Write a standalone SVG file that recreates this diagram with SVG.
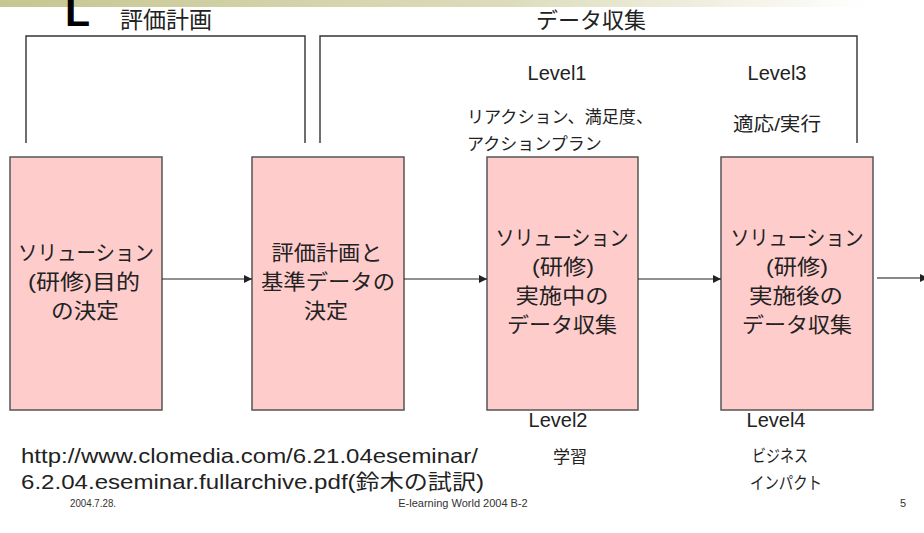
<svg xmlns="http://www.w3.org/2000/svg" width="924" height="533" viewBox="0 0 924 533">
<defs>
<linearGradient id="bar" x1="0" y1="0" x2="1" y2="0">
<stop offset="0" stop-color="#c6c692"/>
<stop offset="0.55" stop-color="#dcdcbc"/>
<stop offset="0.94" stop-color="#ffffff"/>
</linearGradient>
<marker id="ah" viewBox="0 0 10 10" refX="10" refY="5" markerWidth="8" markerHeight="8" markerUnits="userSpaceOnUse" orient="auto">
<path d="M0,0 L10,5 L0,10 z" fill="#222"/>
</marker>
<style>
.box{fill:#ffcccc;stroke:#555;stroke-width:1.5}
.br{fill:none;stroke:#333;stroke-width:1.4}
.t{font-family:"Liberation Sans","Noto Sans CJK JP",sans-serif;fill:#222}
.bt{font-size:21px;text-anchor:middle}
.lv{font-size:20px;text-anchor:middle}
.sm{font-size:17px}
.ft{font-size:11px;fill:#333}
.cn{stroke:#222;stroke-width:1;fill:none;marker-end:url(#ah)}
</style>
</defs>
<rect x="0" y="0" width="924" height="533" fill="#fff"/>
<rect x="0" y="0" width="924" height="7" fill="url(#bar)"/>
<text class="t" x="65" y="26" font-size="41" font-weight="bold" style="fill:#000">L</text>

<g id="plan-bracket">
<path class="br" d="M26,143 V36 H305 V143"/>
<text class="t" x="166" y="28" font-size="23" text-anchor="middle">評価計画</text>
</g>
<g id="data-bracket">
<path class="br" d="M320,143 V36 H857 V143"/>
<text class="t" x="591" y="28" font-size="22" text-anchor="middle">データ収集</text>
</g>

<g id="node1">
<rect class="box" x="10" y="157" width="152" height="253"/>
<text class="t bt" x="86" y="260" textLength="136" lengthAdjust="spacingAndGlyphs">ソリューション</text>
<text class="t bt" x="84" y="289" textLength="112" lengthAdjust="spacingAndGlyphs">(研修)目的</text>
<text class="t bt" x="85" y="318" textLength="68" lengthAdjust="spacingAndGlyphs">の決定</text>
</g>
<g id="node2">
<rect class="box" x="252" y="157" width="152" height="253"/>
<text class="t bt" x="327" y="260" textLength="111" lengthAdjust="spacingAndGlyphs">評価計画と</text>
<text class="t bt" x="328" y="289" textLength="134" lengthAdjust="spacingAndGlyphs">基準データの</text>
<text class="t bt" x="326" y="318" textLength="44" lengthAdjust="spacingAndGlyphs">決定</text>
</g>
<g id="node3">
<rect class="box" x="487" y="157" width="151" height="253"/>
<text class="t bt" x="562" y="245" textLength="133" lengthAdjust="spacingAndGlyphs">ソリューション</text>
<text class="t bt" x="563" y="274" textLength="62" lengthAdjust="spacingAndGlyphs">(研修)</text>
<text class="t bt" x="562" y="303" textLength="93" lengthAdjust="spacingAndGlyphs">実施中の</text>
<text class="t bt" x="562" y="332" textLength="110" lengthAdjust="spacingAndGlyphs">データ収集</text>
</g>
<g id="node4">
<rect class="box" x="721" y="157" width="152" height="253"/>
<text class="t bt" x="797" y="245" textLength="133" lengthAdjust="spacingAndGlyphs">ソリューション</text>
<text class="t bt" x="797" y="274" textLength="62" lengthAdjust="spacingAndGlyphs">(研修)</text>
<text class="t bt" x="796" y="303" textLength="94" lengthAdjust="spacingAndGlyphs">実施後の</text>
<text class="t bt" x="797" y="332" textLength="110" lengthAdjust="spacingAndGlyphs">データ収集</text>
</g>

<g id="connectors">
<line class="cn" x1="162" y1="279" x2="252" y2="279"/>
<line class="cn" x1="404" y1="279" x2="487" y2="279"/>
<line class="cn" x1="638" y1="279" x2="721" y2="279"/>
<line x1="877" y1="278" x2="920" y2="278" stroke="#888" stroke-width="2"/>
<path d="M920,274 L928,278 L920,282 z" fill="#222"/>
</g>

<g id="level1">
<text class="t lv" x="557" y="80">Level1</text>
<text class="t sm" x="467" y="123" textLength="186" lengthAdjust="spacingAndGlyphs">リアクション、満足度、</text>
<text class="t sm" x="467" y="150">アクションプラン</text>
</g>
<g id="level3">
<text class="t lv" x="777" y="80">Level3</text>
<text class="t" x="733" y="131" font-size="19" textLength="88" lengthAdjust="spacingAndGlyphs">適応/実行</text>
</g>
<g id="level2">
<text class="t lv" x="558" y="427">Level2</text>
<text class="t sm" x="570" y="463" text-anchor="middle">学習</text>
</g>
<g id="level4">
<text class="t lv" x="776" y="427">Level4</text>
<text class="t sm" x="752" y="462" textLength="56" lengthAdjust="spacingAndGlyphs">ビジネス</text>
<text class="t sm" x="750" y="489" textLength="72" lengthAdjust="spacingAndGlyphs">インパクト</text>
</g>

<g id="source">
<text class="t" x="21" y="463" font-size="21" textLength="457" lengthAdjust="spacingAndGlyphs">http://www.clomedia.com/6.21.04eseminar/</text>
<text class="t" x="21" y="489" font-size="21" textLength="463" lengthAdjust="spacingAndGlyphs">6.2.04.eseminar.fullarchive.pdf(鈴木の試訳)</text>
</g>

<g id="footer">
<text class="t ft" x="70" y="507" textLength="46" lengthAdjust="spacingAndGlyphs">2004.7.28.</text>
<text class="t ft" x="463" y="507" text-anchor="middle">E-learning World 2004 B-2</text>
<text class="t ft" x="900" y="507">5</text>
</g>
</svg>
